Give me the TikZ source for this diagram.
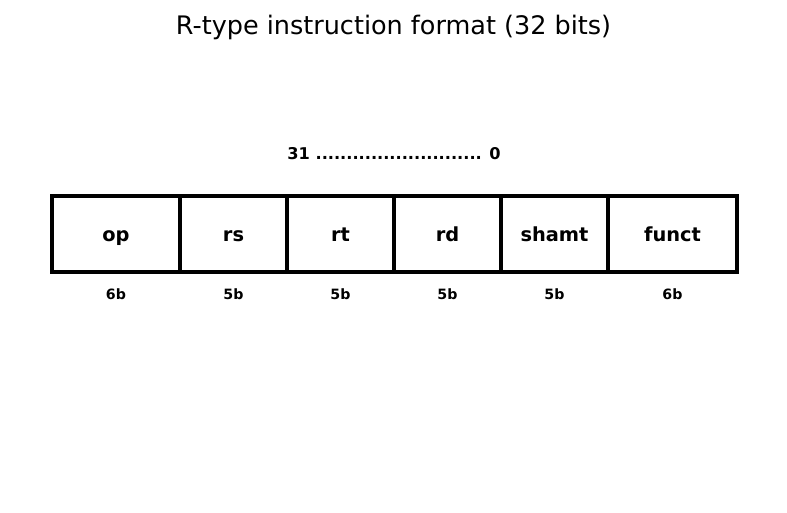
\documentclass[tikz,border=0pt]{standalone}
\usepackage{fontspec}
\setmainfont{DejaVu Sans}
\tikzset{
  field/.style={draw=black, line width=4.5pt, line join=miter, minimum height=76pt, inner sep=0pt, outer sep=0pt, text height=18pt, text depth=4pt, font=\fontsize{19.4}{22}\selectfont\bfseries, anchor=west},
  sizelbl/.style={inner sep=0pt, text height=13pt, text depth=3pt, font=\fontsize{14.2}{16}\selectfont\bfseries},
  bitlbl/.style={inner sep=0pt, text height=14pt, text depth=2pt, font=\fontsize{16.2}{18}\selectfont\bfseries},
  titlelbl/.style={inner sep=0pt, text height=20pt, text depth=6pt, font=\fontsize{25.5}{28}\selectfont}
}
\begin{document}
\begin{tikzpicture}[x=1pt,y=-1pt]
\useasboundingbox (0,0) rectangle (787,512);
\node[titlelbl] (title) at (393.5,27) {R-type instruction format (32 bits)};
\node[bitlbl] (bits) at (394,153) {31 ........................... 0};
\node[field, minimum width=128pt] (op) at (52,234) {op};
\node[field, minimum width=107pt] (rs) at (180,234) {rs};
\node[field, minimum width=107pt] (rt) at (287,234) {rt};
\node[field, minimum width=107pt] (rd) at (394,234) {rd};
\node[field, minimum width=107pt] (shamt) at (501,234) {shamt};
\node[field, minimum width=129pt] (funct) at (608,234) {funct};
\node[sizelbl] (sop) at (116,294) {6b};
\node[sizelbl] (srs) at (233.5,294) {5b};
\node[sizelbl] (srt) at (340.5,294) {5b};
\node[sizelbl] (srd) at (447.5,294) {5b};
\node[sizelbl] (sshamt) at (554.5,294) {5b};
\node[sizelbl] (sfunct) at (672.5,294) {6b};
\end{tikzpicture}
\end{document}
